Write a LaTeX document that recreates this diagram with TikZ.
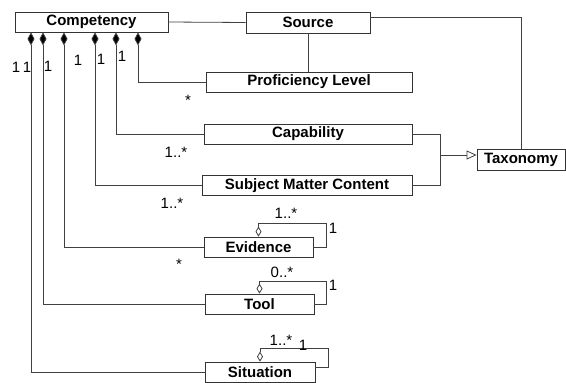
\documentclass[tikz,border=0pt]{standalone}
\usepackage{fontspec}
\setmainfont{Liberation Sans}
\usetikzlibrary{arrows.meta}
\begin{document}
\begin{tikzpicture}[x=1pt,y=-1pt,
  cls/.style={draw=black!80,line width=0.8pt,fill=white,inner sep=0pt,font=\fontsize{15}{16}\selectfont\bfseries,anchor=center},
  conn/.style={draw=black!75,line width=0.8pt},
  compo/.style={conn,{Diamond[length=13pt,width=7pt,fill=black]}-},
  aggr/.style={conn,{Diamond[open,length=10pt,width=6pt,fill=white]}-},
  gen/.style={conn,-{Triangle[open,length=10pt,width=9pt,fill=white]}},
  mult/.style={font=\fontsize{15}{16}\selectfont,inner sep=0pt,anchor=base}]
\useasboundingbox (0,0) rectangle (566,383);
\node[cls,minimum width=153pt,minimum height=20pt] (comp) at (91.5,22) {Competency};
\node[cls,minimum width=124pt,minimum height=21pt] (src) at (308,22.5) {Source};
\node[cls,minimum width=206pt,minimum height=20pt] (prof) at (309,82) {Proficiency Level};
\node[cls,minimum width=208pt,minimum height=20pt] (cap) at (308,134) {Capability};
\node[cls,minimum width=210pt,minimum height=20pt] (smc) at (307,185.5) {Subject Matter Content};
\node[cls,minimum width=88pt,minimum height=21pt] (tax) at (521,159.5) {Taxonomy};
\node[cls,minimum width=109pt,minimum height=20pt] (evid) at (258.5,247) {Evidence};
\node[cls,minimum width=109pt,minimum height=20pt] (tool) at (259.5,304) {Tool};
\node[cls,minimum width=110pt,minimum height=20pt] (sit) at (260,372) {Situation};
% associations
\draw[conn] (comp.east) -- (src.west);
\draw[conn] (src.south) -- (src.south |- prof.north);
\draw[conn] ([yshift=5pt]src.east) -| (tax.north);
% compositions
\draw[compo] (138,0 |- comp.south) |- (prof.west);
\draw[compo] (116,0 |- comp.south) |- (cap.west);
\draw[compo] (95,0 |- comp.south) |- (smc.west);
\draw[compo] (64,0 |- comp.south) |- (evid.west);
\draw[compo] (43,0 |- comp.south) |- (tool.west);
\draw[compo] (31,0 |- comp.south) |- (sit.west);
% generalization
\coordinate (j) at (440,155);
\draw[conn] (cap.east) -| (j);
\draw[conn] (smc.east) -| (j);
\draw[gen] (j) -- (j -| tax.west);
% self aggregations
\draw[aggr] (evid.north) |- (326,223) |- (evid.east);
\draw[aggr] (tool.north) |- (326,281) |- (tool.east);
\draw[aggr] (sit.north) |- (328,348) |- ([yshift=5pt]sit.east);
% multiplicities
\node[mult] (m1) at (16,72) {1};
\node[mult] (m2) at (27,72) {1};
\node[mult] (m3) at (48,71) {1};
\node[mult] (m4) at (78,65) {1};
\node[mult] (m5) at (101,64) {1};
\node[mult] (m6) at (122,61) {1};
\node[mult] (m7) at (188,105) {*};
\node[mult] (m8) at (176,157) {1..*};
\node[mult] (m9) at (172,208) {1..*};
\node[mult] (m10) at (179,269) {*};
\node[mult] (m11) at (286,218) {1..*};
\node[mult] (m12) at (333,233) {1};
\node[mult] (m13) at (282,277) {0..*};
\node[mult] (m14) at (333,290) {1};
\node[mult] (m15) at (281,345) {1..*};
\node[mult] (m16) at (303,350) {1};
\end{tikzpicture}
\end{document}
